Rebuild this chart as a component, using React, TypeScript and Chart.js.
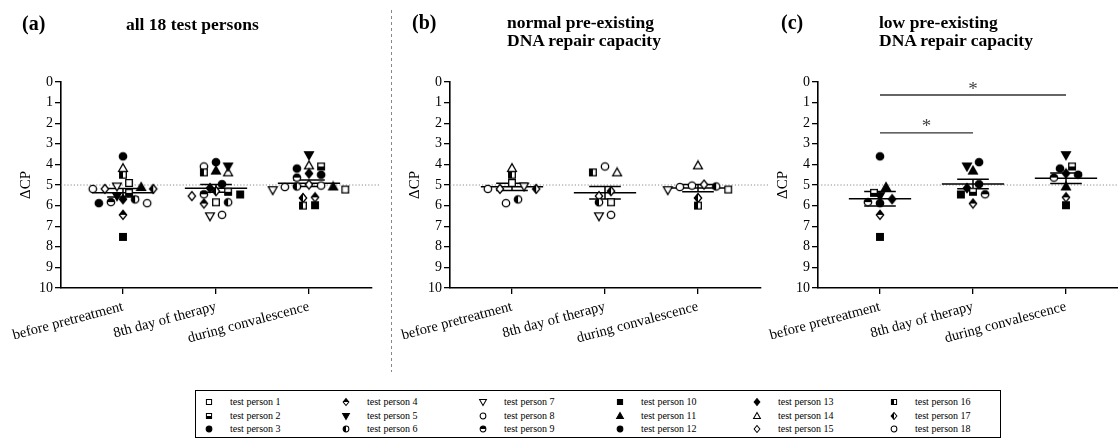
import React, { useEffect, useRef, useMemo } from "react";
import { Chart, registerables } from "chart.js";

Chart.register(...registerables);

const FONT = "'Liberation Serif', 'Times New Roman', Times, serif";

// ---------------- data ----------------
const timePoints = ["before pretreatment", "8th day of therapy", "during convalescence"];
const yTickValues = [0, 1, 2, 3, 4, 5, 6, 7, 8, 9, 10];
const referenceLevel = 5;

const personLabels = [
  "test person 1", "test person 2", "test person 3", "test person 4", "test person 5", "test person 6",
  "test person 7", "test person 8", "test person 9", "test person 10", "test person 11", "test person 12",
  "test person 13", "test person 14", "test person 15", "test person 16", "test person 17", "test person 18",
];

// ΔCP values: before pretreatment, 8th day of therapy, during convalescence
const person1 = [4.9, 5.84, 5.22];
const person2 = [5.38, 5.33, 4.1];
const person3 = [3.61, 3.89, 4.2];
const person4 = [6.45, 5.9, 5.6];
const person5 = [5.54, 4.1, 3.55];
const person6 = [5.7, 5.84, 5.07];
const person7 = [5.07, 6.52, 5.25];
const person8 = [5.88, 6.45, 5.1];
const person9 = [5.83, 5.45, 4.64];
const person10 = [7.52, 5.46, 5.98];
const person11 = [5.1, 4.3, 5.07];
const person12 = [5.88, 4.96, 4.5];
const person13 = [5.69, 5.15, 4.44];
const person14 = [4.18, 4.39, 4.05];
const person15 = [5.19, 5.54, 4.98];
const person16 = [4.5, 4.39, 6.0];
const person17 = [5.19, 5.3, 5.63];
const person18 = [5.19, 4.1, 5.03];

const personValues = [
  person1, person2, person3, person4, person5, person6, person7, person8, person9,
  person10, person11, person12, person13, person14, person15, person16, person17, person18,
];

const allPersons = [1, 2, 3, 4, 5, 6, 7, 8, 9, 10, 11, 12, 13, 14, 15, 16, 17, 18];
const normalCapacity = [1, 6, 7, 8, 14, 15, 16, 17, 18];
const lowCapacity = [2, 3, 4, 5, 9, 10, 11, 12, 13];

const lowComparisons = [
  { from: 1, to: 2, label: "*" },
  { from: 1, to: 3, label: "*" },
];

// ---------------- styles ----------------
type Shape = "square" | "circle" | "diamond" | "triUp" | "triDown";
type Fill = "open" | "full" | "left" | "top" | "bottom";
const MARKERS: { shape: Shape; fill: Fill }[] = [
  { shape: "square", fill: "open" },
  { shape: "square", fill: "bottom" },
  { shape: "circle", fill: "full" },
  { shape: "diamond", fill: "top" },
  { shape: "triDown", fill: "full" },
  { shape: "circle", fill: "left" },
  { shape: "triDown", fill: "open" },
  { shape: "circle", fill: "open" },
  { shape: "circle", fill: "top" },
  { shape: "square", fill: "full" },
  { shape: "triUp", fill: "full" },
  { shape: "circle", fill: "full" },
  { shape: "diamond", fill: "full" },
  { shape: "triUp", fill: "open" },
  { shape: "diamond", fill: "open" },
  { shape: "square", fill: "left" },
  { shape: "diamond", fill: "left" },
  { shape: "circle", fill: "open" },
];

function shapePath(ctx: CanvasRenderingContext2D, shape: Shape, cx: number, cy: number, k: number) {
  ctx.beginPath();
  if (shape === "square") {
    const h = 3.3 * k;
    ctx.rect(cx - h, cy - h, 2 * h, 2 * h);
  } else if (shape === "circle") {
    ctx.arc(cx, cy, 3.7 * k, 0, Math.PI * 2);
  } else if (shape === "diamond") {
    const h = 4.5 * k;
    ctx.moveTo(cx, cy - h);
    ctx.lineTo(cx + h * 0.82, cy);
    ctx.lineTo(cx, cy + h);
    ctx.lineTo(cx - h * 0.82, cy);
    ctx.closePath();
  } else if (shape === "triUp") {
    const h = 4.4 * k;
    ctx.moveTo(cx, cy - h);
    ctx.lineTo(cx + h, cy + h * 0.75);
    ctx.lineTo(cx - h, cy + h * 0.75);
    ctx.closePath();
  } else {
    const h = 4.4 * k;
    ctx.moveTo(cx, cy + h);
    ctx.lineTo(cx + h, cy - h * 0.75);
    ctx.lineTo(cx - h, cy - h * 0.75);
    ctx.closePath();
  }
}

function makeMarker(idx: number, k: number): HTMLCanvasElement {
  const m = MARKERS[idx];
  const size = Math.ceil(11 * k) + 1;
  const c = document.createElement("canvas");
  c.width = size;
  c.height = size;
  const ctx = c.getContext("2d")!;
  const cx = size / 2;
  const cy = size / 2;
  shapePath(ctx, m.shape, cx, cy, k);
  ctx.fillStyle = m.fill === "full" ? "#000" : "#fff";
  ctx.fill();
  if (m.fill === "left" || m.fill === "top" || m.fill === "bottom") {
    ctx.save();
    shapePath(ctx, m.shape, cx, cy, k);
    ctx.clip();
    ctx.fillStyle = "#000";
    if (m.fill === "left") ctx.fillRect(0, 0, cx, size);
    else if (m.fill === "top") ctx.fillRect(0, 0, size, cy);
    else ctx.fillRect(0, cy, size, size);
    ctx.restore();
  }
  shapePath(ctx, m.shape, cx, cy, k);
  ctx.lineWidth = 1.3 * k;
  ctx.strokeStyle = "#000";
  ctx.stroke();
  return c;
}

// horizontal spread of points with similar values (scatter-dot style)
function spread(vals: number[], rowGap = 0.3, step = 0.13): number[] {
  const idx = vals.map((_, i) => i).sort((a, b) => vals[a] - vals[b]);
  const out = new Array(vals.length).fill(0);
  let row: number[] = [];
  const flush = () => {
    const n = row.length;
    const slots: number[] = [];
    if (n % 2) {
      slots.push(0);
      for (let k = 1; slots.length < n; k++) slots.push(k, -k);
    } else {
      for (let k = 0.5; slots.length < n; k++) slots.push(k, -k);
    }
    row.forEach((i, j) => (out[i] = slots[j] * step));
    row = [];
  };
  for (const i of idx) {
    if (row.length && vals[i] - vals[row[0]] > rowGap) flush();
    row.push(i);
  }
  flush();
  return out;
}

const X_MIN = 1 - 62 / 93;
const X_MAX = X_MIN + 311 / 93;
const CANVAS_W = 380;
const CANVAS_H = 368;

const starsPlugin = {
  id: "stars",
  afterDatasetsDraw(chart: any, _args: any, opts: any) {
    if (!opts || !opts.items) return;
    const { ctx, scales } = chart;
    ctx.save();
    ctx.font = `19px ${FONT}`;
    ctx.fillStyle = "#444";
    ctx.textAlign = "center";
    ctx.textBaseline = "alphabetic";
    for (const it of opts.items) {
      ctx.fillText(it.text, scales.x.getPixelForValue(it.x), scales.y.getPixelForValue(it.y) + 9);
    }
    ctx.restore();
  },
};

function buildConfig(group: number[], withSig: boolean, markers: HTMLCanvasElement[]): any {
  const datasets: any[] = [];
  datasets.push({
    data: [
      { x: X_MIN, y: referenceLevel },
      { x: X_MAX + 0.1, y: referenceLevel },
    ],
    showLine: true,
    borderColor: "#8c8c8c",
    borderWidth: 1,
    borderDash: [1.2, 2],
    pointRadius: 0,
    clip: false,
    order: 3,
  });

  const offsets = timePoints.map((_, t) => spread(group.map((p) => personValues[p - 1][t])));
  group.forEach((p, gi) => {
    datasets.push({
      label: personLabels[p - 1],
      data: timePoints.map((_, t) => ({ x: t + 1 + offsets[t][gi], y: personValues[p - 1][t] })),
      pointStyle: markers[p - 1],
      pointRadius: 4,
      showLine: false,
      order: 0,
    });
  });

  const stats: any[] = [];
  timePoints.forEach((_, t) => {
    const vals = group.map((p) => personValues[p - 1][t]);
    const n = vals.length;
    const mean = vals.reduce((a, b) => a + b, 0) / n;
    const sd = Math.sqrt(vals.reduce((a, b) => a + (b - mean) * (b - mean), 0) / (n - 1));
    const sem = sd / Math.sqrt(n);
    const c = t + 1;
    stats.push(
      { x: c - 0.335, y: mean }, { x: c + 0.335, y: mean }, { x: c, y: null },
      { x: c, y: mean - sem }, { x: c, y: mean + sem }, { x: c, y: null },
      { x: c - 0.17, y: mean - sem }, { x: c + 0.17, y: mean - sem }, { x: c, y: null },
      { x: c - 0.17, y: mean + sem }, { x: c + 0.17, y: mean + sem }, { x: c, y: null }
    );
  });
  datasets.push({
    data: stats,
    showLine: true,
    spanGaps: false,
    borderColor: "#000",
    borderWidth: 1.5,
    pointRadius: 0,
    order: 1,
  });

  const starItems: any[] = [];
  if (withSig) {
    const levels = [2.47, 0.63];
    const starLevels = [2.0, 0.17];
    const sig: any[] = [];
    lowComparisons.forEach((cmp, i) => {
      sig.push({ x: cmp.from, y: levels[i] }, { x: cmp.to, y: levels[i] }, { x: cmp.from, y: null });
      starItems.push({ x: (cmp.from + cmp.to) / 2, y: starLevels[i], text: cmp.label });
    });
    datasets.push({
      data: sig,
      showLine: true,
      spanGaps: false,
      borderColor: "#333",
      borderWidth: 1.3,
      pointRadius: 0,
      clip: false,
      order: 1,
    });
  }

  return {
    type: "scatter",
    data: { datasets },
    plugins: [starsPlugin],
    options: {
      responsive: false,
      animation: false,
      events: [],
      devicePixelRatio: 1,
      layout: { padding: { left: 17, top: 82, right: CANVAS_W - 17 - 44 - 311, bottom: 0 } },
      plugins: {
        legend: { display: false },
        tooltip: { enabled: false },
        title: { display: false },
        stars: { items: starItems },
      },
      scales: {
        x: {
          type: "linear",
          min: X_MIN,
          max: X_MAX,
          afterBuildTicks: (s: any) => {
            s.ticks = timePoints.map((_, i) => ({ value: i + 1 }));
          },
          afterFit: (s: any) => {
            s.height = 80;
            s.paddingLeft = 0;
            s.paddingRight = 0;
          },
          ticks: {
            autoSkip: false,
            minRotation: 15,
            maxRotation: 15,
            padding: 4,
            color: "#000",
            font: { size: 14.5, family: FONT },
            callback: (v: any) => timePoints[Math.round(v) - 1] ?? "",
          },
          grid: { drawOnChartArea: false, drawTicks: true, tickLength: 6, color: "#000", lineWidth: 1.3 },
          border: { display: true, color: "#000", width: 1.6 },
        },
        y: {
          type: "linear",
          reverse: true,
          min: 0,
          max: 10,
          afterBuildTicks: (s: any) => {
            s.ticks = yTickValues.map((v) => ({ value: v }));
          },
          afterFit: (s: any) => {
            s.width = 44;
          },
          ticks: { color: "#000", padding: 2, font: { size: 14, family: FONT } },
          grid: { drawOnChartArea: false, drawTicks: true, tickLength: 6, color: "#000", lineWidth: 1.3 },
          border: { display: true, color: "#000", width: 1.6 },
          title: { display: true, text: "ΔCP", color: "#000", padding: 0, font: { size: 15, family: FONT } },
        },
      },
    },
  };
}

function Panel({ left, group, withSig, markers }: { left: number; group: number[]; withSig: boolean; markers: HTMLCanvasElement[] }) {
  const ref = useRef<HTMLCanvasElement>(null);
  useEffect(() => {
    const chart = new Chart(ref.current!, buildConfig(group, withSig, markers));
    return () => chart.destroy();
  }, [group, withSig, markers]);
  return (
    <canvas
      ref={ref}
      width={CANVAS_W}
      height={CANVAS_H}
      style={{ position: "absolute", left, top: 0, width: CANVAS_W, height: CANVAS_H }}
    />
  );
}

const titleBold: React.CSSProperties = {
  position: "absolute",
  fontFamily: FONT,
  fontWeight: "bold",
  color: "#000",
  whiteSpace: "nowrap",
};

export default function App() {
  const markers = useMemo(() => MARKERS.map((_, i) => makeMarker(i, 1)), []);
  const legendIcons = useMemo(() => MARKERS.map((_, i) => makeMarker(i, 0.78).toDataURL()), []);

  const legendItems: JSX.Element[] = [];
  for (let c = 0; c < 6; c++) {
    for (let r = 0; r < 3; r++) {
      const p = c * 3 + r;
      const cx = 13 + 137 * c;
      const cy = 11 + 13.6 * r;
      legendItems.push(
        <React.Fragment key={p}>
          <img src={legendIcons[p]} style={{ position: "absolute", left: cx - 5, top: cy - 5, width: 10, height: 10 }} />
          <div
            style={{
              position: "absolute",
              left: cx + 21,
              top: cy - 6,
              fontSize: 10,
              lineHeight: "12px",
              fontFamily: FONT,
              whiteSpace: "nowrap",
              color: "#000",
            }}
          >
            {personLabels[p]}
          </div>
        </React.Fragment>
      );
    }
  }

  return (
    <div
      style={{
        position: "fixed",
        left: 0,
        top: 0,
        width: 1118,
        height: 438,
        overflow: "hidden",
        background: "#fff",
      }}
    >
      <Panel left={0} group={allPersons} withSig={false} markers={markers} />
      <Panel left={389} group={normalCapacity} withSig={false} markers={markers} />
      <Panel left={757} group={lowCapacity} withSig={true} markers={markers} />

      <div style={{ ...titleBold, left: 22, top: 13, fontSize: 20, lineHeight: "20px" }}>(a)</div>
      <div style={{ ...titleBold, left: 126, top: 15, fontSize: 17.5, lineHeight: "19px" }}>all 18 test persons</div>
      <div style={{ ...titleBold, left: 412, top: 12, fontSize: 20, lineHeight: "20px" }}>(b)</div>
      <div style={{ ...titleBold, left: 507, top: 14, fontSize: 17.5, lineHeight: "17.5px" }}>
        normal pre-existing
        <br />
        DNA repair capacity
      </div>
      <div style={{ ...titleBold, left: 781, top: 12, fontSize: 20, lineHeight: "20px" }}>(c)</div>
      <div style={{ ...titleBold, left: 879, top: 14, fontSize: 17.5, lineHeight: "17.5px" }}>
        low pre-existing
        <br />
        DNA repair capacity
      </div>

      <div
        style={{
          position: "absolute",
          left: 391,
          top: 10,
          width: 1,
          height: 362,
          background: "repeating-linear-gradient(to bottom, #888 0px, #888 3px, transparent 3px, transparent 6px)",
        }}
      />

      <div
        style={{
          position: "absolute",
          left: 195,
          top: 390,
          width: 806,
          height: 48,
          boxSizing: "border-box",
          border: "1px solid #000",
        }}
      >
        {legendItems}
      </div>
    </div>
  );
}
